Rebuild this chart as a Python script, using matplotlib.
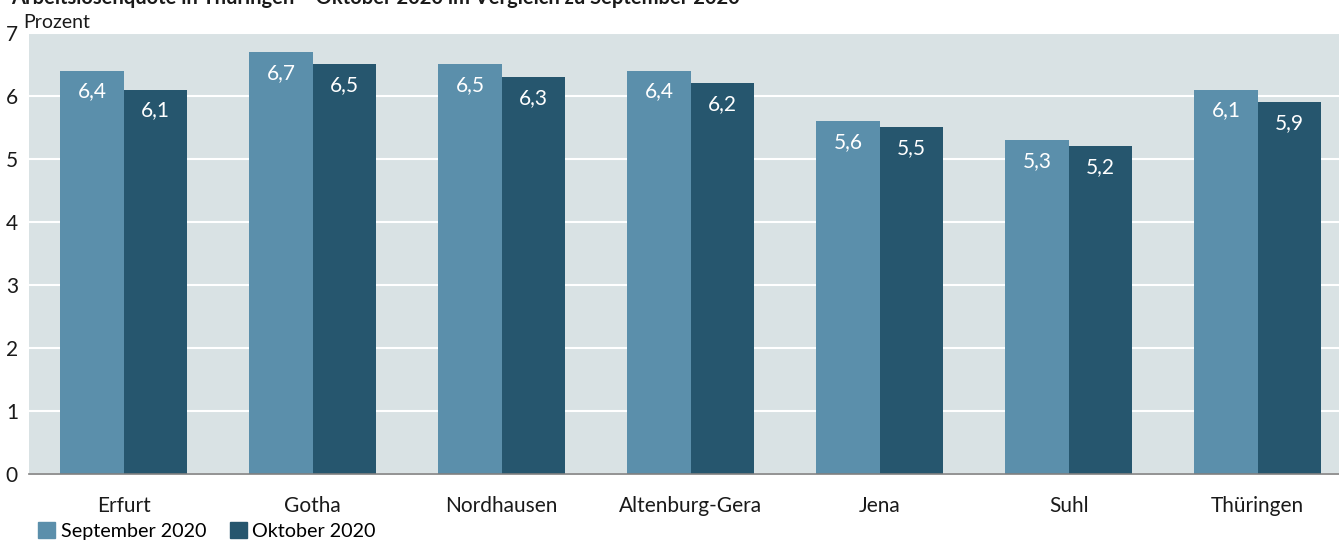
import numpy as np
import matplotlib
matplotlib.use("Agg")
from matplotlib import pyplot as plt
from matplotlib.patches import Patch

plt.rcParams['font.family'] = ['Lato', 'DejaVu Sans']

# Daten
regionen = ['Erfurt', 'Gotha', 'Nordhausen', 'Altenburg-Gera', 'Jena', 'Suhl', 'Thüringen']
sep_2020 = [6.4, 6.7, 6.5, 6.4, 5.6, 5.3, 6.1]
okt_2020 = [6.1, 6.5, 6.3, 6.2, 5.5, 5.2, 5.9]
serien = ['September 2020', 'Oktober 2020']
farben = ['#5b8fab', '#26566e']

fig = plt.figure(figsize=(13.39, 5.40), dpi=100)
ax = fig.add_axes([0.0217, 0.1222, 0.9783, 0.8167])
ax.set_facecolor('#d9e2e4')

x = np.arange(len(regionen))
b = 0.335
for i, (werte, farbe) in enumerate(zip([sep_2020, okt_2020], farben)):
    pos = x - b / 2 + i * b
    ax.bar(pos, werte, width=b, color=farbe, zorder=3)
    for p, v in zip(pos, werte):
        ax.text(p, v - 0.17, ('%.1f' % v).replace('.', ','), ha='center', va='top',
                color='white', fontsize=15, zorder=4)

ax.set_xlim(-0.5, 6.43)
ax.set_ylim(0, 7)
ax.set_yticks(range(0, 8))
ax.grid(axis='y', color='white', linewidth=1.5, zorder=1)
ax.set_xticks(x)
ax.set_xticklabels(regionen)
ax.tick_params(axis='both', length=0, labelsize=15, colors='#1a1a1a')
ax.tick_params(axis='x', pad=16)
ax.tick_params(axis='y', pad=8)
for s in ['top', 'right', 'left']:
    ax.spines[s].set_visible(False)
ax.spines['bottom'].set_color('#808080')
ax.spines['bottom'].set_linewidth(1.2)
ax.spines['bottom'].set_zorder(5)

fig.text(0.017, 0.958, 'Prozent', fontsize=14, ha='left', va='center', color='#1a1a1a')
fig.text(0.008, 1.004, 'Arbeitslosenquote in Thüringen – Oktober 2020 im Vergleich zu September 2020',
         fontsize=14.5, fontweight='bold', ha='left', va='center', color='#1a1a1a')

handles = [Patch(color=c, label=l) for c, l in zip(farben, serien)]
fig.legend(handles=handles, loc='lower left', bbox_to_anchor=(0.018, -0.025), ncol=2,
           frameon=False, fontsize=14.2, handlelength=0.85, handleheight=0.85,
           handletextpad=0.3, columnspacing=1.2, borderpad=0.2)

fig.savefig('out.png', dpi=100)
